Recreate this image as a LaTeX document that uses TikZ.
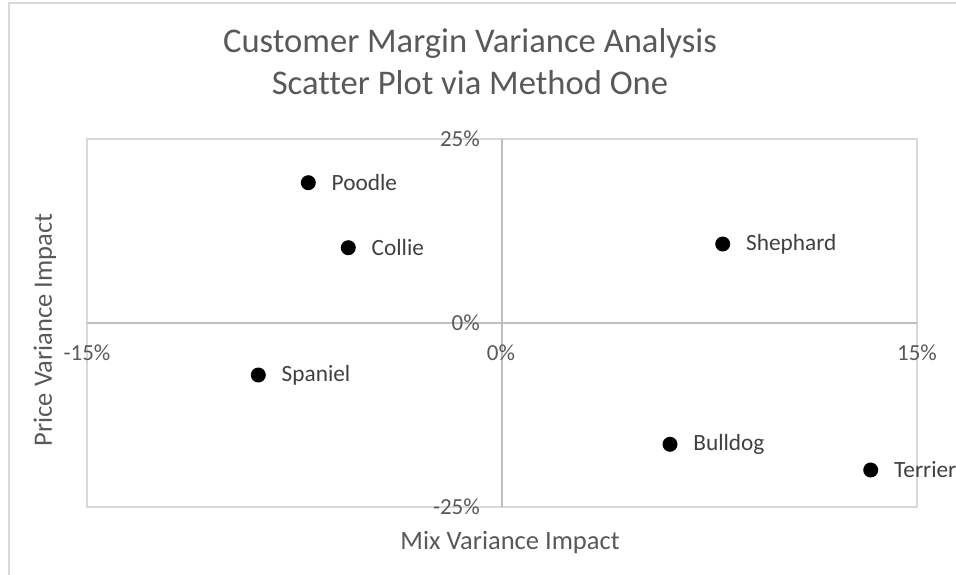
\documentclass[tikz,border=0pt]{standalone}
\usepackage{fontspec}
\setmainfont{Carlito}[Ligatures=NoCommon]
\definecolor{txt}{HTML}{595959}
\definecolor{lbl}{HTML}{404040}
\definecolor{gridc}{HTML}{D9D9D9}
\definecolor{axisc}{HTML}{BFBFBF}
\begin{document}
\begin{tikzpicture}[x=1pt,y=-1pt,
  dot/.style={circle,fill=black,inner sep=0pt,minimum size=15pt},
  lab/.style={anchor=west,inner sep=0pt,text=lbl,font=\fontsize{23.3}{27}\selectfont},
  tick/.style={inner sep=0pt,text=txt,font=\fontsize{23}{27}\selectfont},
  axtitle/.style={inner sep=0pt,text=txt,font=\fontsize{26.5}{32}\selectfont},
  frame/.style={draw=gridc,line width=1.5pt},
  axline/.style={draw=axisc,line width=1.5pt}]
\useasboundingbox (0,0) rectangle (956,575);
% chart border
\draw[frame] (9,575) -- (9,3) -- (956,3);
% plot area
\draw[frame] (87,139) rectangle (917,507);
\draw[axline] (87,323) -- (917,323);
\draw[axline] (502,139) -- (502,507);
% title
\node[inner sep=0pt,text=txt,align=center,font=\fontsize{34.6}{42}\selectfont] (title) at (470,62) {Customer Margin Variance Analysis\\Scatter Plot via Method One};
% y tick labels
\node[tick,anchor=east] (y25) at (480,139) {25\%};
\node[tick,anchor=east] (y0) at (480,323) {0\%};
\node[tick,anchor=east] (ym25) at (480,507) {-25\%};
% x tick labels
\node[tick] (xm15) at (87,353) {-15\%};
\node[tick] (x0) at (501,353) {0\%};
\node[tick] (x15) at (917,353) {15\%};
% axis titles
\node[axtitle] (xtitle) at (510,543) {Mix Variance Impact};
\node[axtitle,rotate=90] (ytitle) at (45,330) {Price Variance Impact};
% points
\node[dot] (poodle) at (308.3,182.7) {};
\node[dot] (collie) at (348.3,247.7) {};
\node[dot] (shephard) at (722.7,244) {};
\node[dot] (spaniel) at (258.3,375) {};
\node[dot] (bulldog) at (670,444.3) {};
\node[dot] (terrier) at (870.7,470) {};
\node[lab] (poodleL) at ([xshift=15.5pt]poodle.east) {Poodle};
\node[lab] (collieL) at ([xshift=15.5pt]collie.east) {Collie};
\node[lab] (shephardL) at ([xshift=15.5pt]shephard.east) {Shephard};
\node[lab] (spanielL) at ([xshift=15.5pt]spaniel.east) {Spaniel};
\node[lab] (bulldogL) at ([xshift=15.5pt]bulldog.east) {Bulldog};
\node[lab] (terrierL) at ([xshift=15.5pt]terrier.east) {Terrier};
\end{tikzpicture}
\end{document}
